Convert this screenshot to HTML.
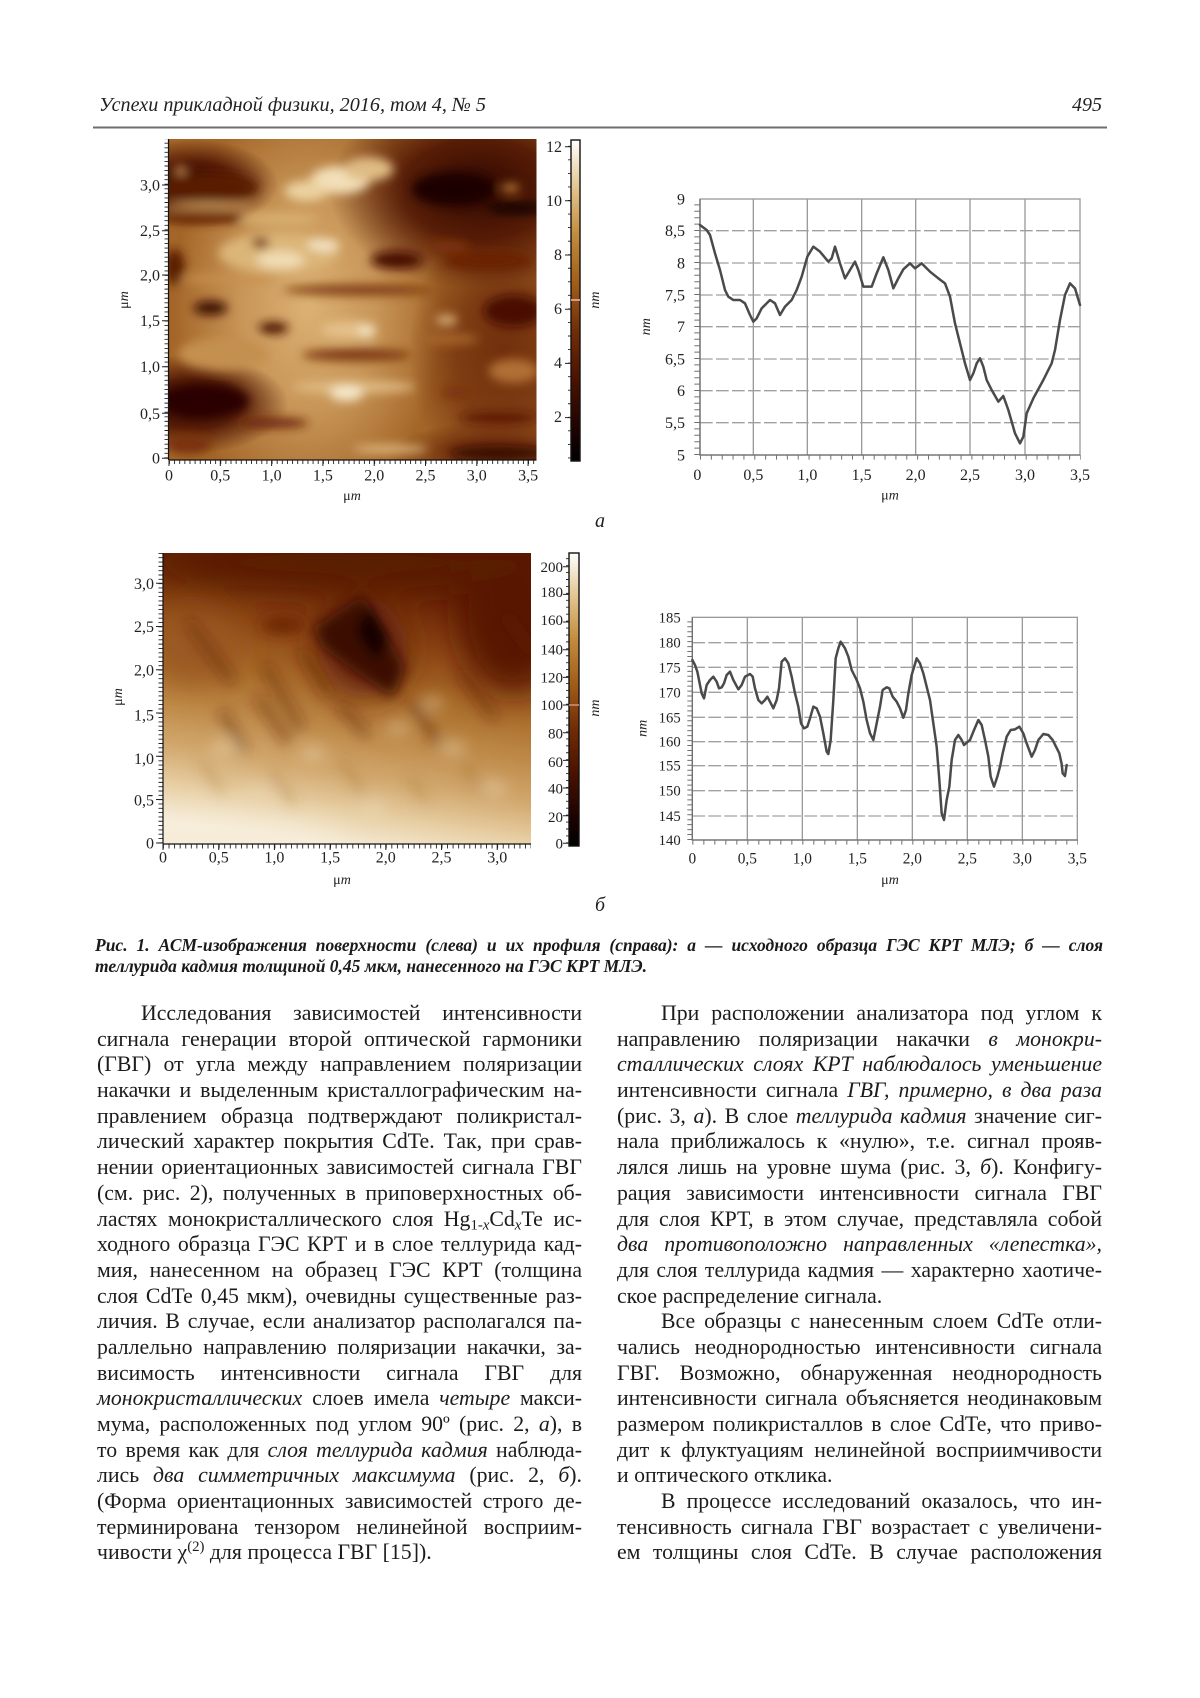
<!DOCTYPE html>
<html>
<head>
<meta charset="utf-8">
<style>
html,body{margin:0;padding:0;background:#fff;}
body{width:1200px;height:1698px;position:relative;overflow:hidden;}
.cap{position:absolute;left:95px;top:935px;width:1008px;font:italic bold 17.5px/21px "Liberation Serif","Noto Serif CJK SC",serif;color:#1a1a1a;}
.cap div{text-align:justify;text-align-last:justify;}
.cap div.e{text-align-last:left;}
.col{position:absolute;top:1001px;width:485px;font:21.8px/25.7px "Liberation Serif","Noto Serif CJK SC",serif;color:#1c1c1c;}
.col div{text-align:justify;text-align-last:justify;height:25.7px;}
.col div.e{text-align-last:left;}
.col div.i{text-indent:44px;}
sub,sup{line-height:0;font-size:0.68em;}
sub{vertical-align:-0.22em;}
sup{vertical-align:0.55em;}
</style>
</head>
<body>
<svg width="1200" height="930" style="position:absolute;left:0;top:0" font-family="Liberation Serif, serif">
<defs>
<filter id="bL" filterUnits="userSpaceOnUse" x="-150" y="-150" width="700" height="650"><feGaussianBlur stdDeviation="16"/></filter>
<filter id="bS" filterUnits="userSpaceOnUse" x="-150" y="-150" width="700" height="650"><feGaussianBlur stdDeviation="5"/></filter>
<filter id="bM" filterUnits="userSpaceOnUse" x="-150" y="-150" width="700" height="650"><feGaussianBlur stdDeviation="7"/></filter>
<clipPath id="c1"><rect x="0" y="0" width="368" height="321"/></clipPath>
<clipPath id="c2"><rect x="0" y="0" width="368" height="291"/></clipPath>
<radialGradient id="rDark">
<stop offset="0" stop-color="#2e0600" stop-opacity="1"/>
<stop offset="0.5" stop-color="#4a1000" stop-opacity="0.85"/>
<stop offset="1" stop-color="#4a1000" stop-opacity="0"/>
</radialGradient>
<radialGradient id="rMed">
<stop offset="0" stop-color="#6e2c0a" stop-opacity="0.95"/>
<stop offset="0.5" stop-color="#6e2c0a" stop-opacity="0.7"/>
<stop offset="1" stop-color="#6e2c0a" stop-opacity="0"/>
</radialGradient>
<radialGradient id="rLight">
<stop offset="0" stop-color="#dcb274" stop-opacity="1"/>
<stop offset="0.5" stop-color="#d4a668" stop-opacity="0.75"/>
<stop offset="1" stop-color="#d4a668" stop-opacity="0"/>
</radialGradient>
<linearGradient id="cb" x1="0" y1="1" x2="0" y2="0">
<stop offset="0" stop-color="#000"/>
<stop offset="0.1" stop-color="#1e0300"/>
<stop offset="0.25" stop-color="#4a1200"/>
<stop offset="0.4" stop-color="#702c06"/>
<stop offset="0.55" stop-color="#a05c18"/>
<stop offset="0.7" stop-color="#c08a3c"/>
<stop offset="0.85" stop-color="#e2c48e"/>
<stop offset="1" stop-color="#fff"/>
</linearGradient>
<linearGradient id="g2" x1="0.6" y1="0" x2="0.4" y2="1">
<stop offset="0" stop-color="#561600"/>
<stop offset="0.12" stop-color="#682404"/>
<stop offset="0.3" stop-color="#8c4614"/>
<stop offset="0.45" stop-color="#a66826"/>
<stop offset="0.6" stop-color="#bd8846"/>
<stop offset="0.75" stop-color="#d2a86e"/>
<stop offset="0.88" stop-color="#e8d0a6"/>
<stop offset="1" stop-color="#f7eedc"/>
</linearGradient>
</defs>

<!-- header -->
<text x="99" y="111" font-size="20" font-style="italic" fill="#222" textLength="387" lengthAdjust="spacingAndGlyphs">Успехи прикладной физики, 2016, том 4, № 5</text>
<text x="1102" y="111" font-size="20" font-style="italic" fill="#222" text-anchor="end">495</text>
<rect x="93" y="126.5" width="1014" height="2" fill="#6e6e6e"/>

<!-- ===== TOP AFM IMAGE ===== -->
<g transform="translate(168.5,139)">
<g clip-path="url(#c1)">
<rect x="0" y="0" width="368" height="321" fill="#a46628"/>
<ellipse cx="140" cy="165" rx="135" ry="210" fill="url(#rLight)"/>
<ellipse cx="335" cy="215" rx="95" ry="140" fill="url(#rMed)"/>
<ellipse cx="310" cy="50" rx="150" ry="100" fill="url(#rDark)"/>
<ellipse cx="25" cy="45" rx="85" ry="45" fill="url(#rDark)"/>
<ellipse cx="25" cy="265" rx="95" ry="50" fill="url(#rDark)"/>
<ellipse cx="320" cy="315" rx="100" ry="32" fill="url(#rMed)"/>
<g filter="url(#bS)">
<ellipse cx="172" cy="41" rx="30" ry="14" fill="#f2dfb8"/>
<ellipse cx="138" cy="52" rx="22" ry="10" fill="#ecd2a0"/>
<ellipse cx="200" cy="30" rx="25" ry="12" fill="#e0bc84"/>
<ellipse cx="285" cy="50" rx="42" ry="17" fill="#1e0300"/>
<ellipse cx="350" cy="69" rx="30" ry="5" fill="#080000"/>
<ellipse cx="342" cy="49" rx="9" ry="4" fill="#c88838"/>
<ellipse cx="12" cy="31" rx="6" ry="4" fill="#d09858"/>
<ellipse cx="40" cy="48" rx="50" ry="14" fill="#5a1c02"/>
<ellipse cx="40" cy="67" rx="45" ry="4" fill="#c89858"/>
<ellipse cx="45" cy="79" rx="55" ry="5" fill="#6a2806"/>
<ellipse cx="110" cy="80" rx="40" ry="6" fill="#d8b070"/>
<ellipse cx="110" cy="114" rx="60" ry="20" fill="#dcb678"/>
<ellipse cx="112" cy="121" rx="24" ry="9" fill="#f0dcb4"/>
<ellipse cx="155" cy="106" rx="16" ry="6" fill="#f4e4c4"/>
<ellipse cx="92" cy="104" rx="9" ry="5" fill="#6a2206"/>
<ellipse cx="228" cy="121" rx="26" ry="9" fill="#4a1000"/>
<ellipse cx="280" cy="108" rx="20" ry="6" fill="#7a3008"/>
<ellipse cx="6" cy="128" rx="10" ry="18" fill="#5a1a02"/>
<ellipse cx="320" cy="122" rx="45" ry="10" fill="#6a2206"/>
<ellipse cx="345" cy="172" rx="30" ry="16" fill="#4a1000"/>
<ellipse cx="190" cy="151" rx="75" ry="5" fill="#7a3410"/>
<ellipse cx="60" cy="140" rx="50" ry="4" fill="#c89050"/>
<ellipse cx="42" cy="169" rx="17" ry="7" fill="#3a0800"/>
<ellipse cx="105" cy="189" rx="15" ry="6" fill="#4e1400"/>
<ellipse cx="180" cy="191" rx="28" ry="9" fill="#e4c08a"/>
<ellipse cx="198" cy="192" rx="9" ry="7" fill="#f2e0bc"/>
<ellipse cx="278" cy="181" rx="11" ry="5" fill="#d8b07a"/>
<ellipse cx="188" cy="216" rx="55" ry="6" fill="#7a3410"/>
<ellipse cx="55" cy="215" rx="45" ry="16" fill="#c49050"/>
<ellipse cx="185" cy="248" rx="62" ry="6" fill="#e0bc84"/>
<ellipse cx="178" cy="254" rx="17" ry="8" fill="#f4e6c8"/>
<ellipse cx="35" cy="262" rx="45" ry="17" fill="#2a0400"/>
<ellipse cx="105" cy="284" rx="35" ry="5" fill="#6a2408"/>
<ellipse cx="20" cy="305" rx="22" ry="10" fill="#7a3010"/>
<ellipse cx="222" cy="310" rx="38" ry="4" fill="#e0bc84"/>
<ellipse cx="330" cy="279" rx="40" ry="5" fill="#5a1800"/>
<ellipse cx="288" cy="254" rx="16" ry="5" fill="#7a3008"/>
<ellipse cx="330" cy="314" rx="50" ry="8" fill="#3a0800"/>
<ellipse cx="345" cy="232" rx="25" ry="12" fill="#b07034"/>
<ellipse cx="280" cy="200" rx="30" ry="5" fill="#a8682a"/>
</g>
</g>
<line x1="0" y1="0" x2="0" y2="321" stroke="#111" stroke-width="1.2"/>
<line x1="0" y1="321" x2="368" y2="321" stroke="#111" stroke-width="1.2"/>
</g>
<!-- ticks top AFM -->
<line x1="166.5" y1="458.3" x2="166.5" y2="139" stroke="#222" stroke-width="4" stroke-dasharray="0.9 3.66"/>
<line x1="169" y1="462" x2="536" y2="462" stroke="#222" stroke-width="4" stroke-dasharray="0.9 4.23"/>
<path d="M162 185h6M162 230.7h6M162 275h6M162 320.7h6M162 366.7h6M162 413.3h6M162 458.3h6M169 460v6M220.3 460v6M271.6 460v6M322.9 460v6M374.2 460v6M425.5 460v6M476.8 460v6M528.1 460v6" stroke="#222" stroke-width="1"/>
<g font-size="16" fill="#222" text-anchor="end">
<text x="160" y="190.5">3,0</text>
<text x="160" y="236">2,5</text>
<text x="160" y="280.5">2,0</text>
<text x="160" y="326">1,5</text>
<text x="160" y="372">1,0</text>
<text x="160" y="418.8">0,5</text>
<text x="160" y="463.5">0</text>
</g>
<g font-size="16" fill="#222" text-anchor="middle">
<text x="169" y="480.5">0</text>
<text x="220.3" y="480.5">0,5</text>
<text x="271.6" y="480.5">1,0</text>
<text x="322.9" y="480.5">1,5</text>
<text x="374.2" y="480.5">2,0</text>
<text x="425.5" y="480.5">2,5</text>
<text x="476.8" y="480.5">3,0</text>
<text x="528.1" y="480.5">3,5</text>
</g>
<text x="352" y="500" font-size="14" text-anchor="middle" fill="#222">μ<tspan font-style="italic">m</tspan></text>
<text transform="translate(128,300) rotate(-90)" font-size="14" text-anchor="middle" fill="#222">μ<tspan font-style="italic">m</tspan></text>
<!-- top colorbar -->
<rect x="571" y="140" width="9" height="321" fill="url(#cb)" stroke="#111" stroke-width="1.4"/>
<line x1="571" y1="300" x2="580" y2="300" stroke="#f0b8a8" stroke-width="1.5"/>
<line x1="569.5" y1="458.4" x2="569.5" y2="140" stroke="#222" stroke-width="3" stroke-dasharray="0.9 12.65"/>
<path d="M565 146.7h6M565 200.8h6M565 255h6M565 309.2h6M565 363.4h6M565 417.6h6" stroke="#222" stroke-width="1"/>
<g font-size="16" fill="#222" text-anchor="end">
<text x="562" y="152">12</text>
<text x="562" y="206">10</text>
<text x="562" y="260">8</text>
<text x="562" y="314">6</text>
<text x="562" y="368">4</text>
<text x="562" y="422">2</text>
</g>
<text transform="translate(599,300) rotate(-90)" font-size="14" font-style="italic" text-anchor="middle" fill="#222">nm</text>
<text x="600" y="527" font-size="20" font-style="italic" text-anchor="middle" fill="#222">а</text>

<!-- ===== TOP PROFILE ===== -->
<svg x="600" y="180" width="520" height="340" viewBox="0 0 1560 1020">
<path d="M300 152H1440M300 249H1440M300 345H1440M300 440H1440M300 537H1440M300 632H1440M300 728H1440" stroke="#a0a0a0" stroke-width="4" stroke-dasharray="38 10" fill="none"/>
<path d="M460 57V825M622 57V825M785 57V825M947 57V825M1110 57V825M1275 57V825" stroke="#9a9a9a" stroke-width="4" fill="none"/>
<rect x="300" y="57" width="1140" height="768" stroke="#9a9a9a" stroke-width="4" fill="none"/>
<path d="M300 57V825H1440" stroke="#707070" stroke-width="4" fill="none"/>
<line x1="291" y1="825" x2="291" y2="57" stroke="#707070" stroke-width="16" stroke-dasharray="3 16.2"/>
<line x1="300" y1="832" x2="1442" y2="832" stroke="#707070" stroke-width="14" stroke-dasharray="3 29.57"/>
<g font-size="48" fill="#222" text-anchor="end">
<text x="255" y="73">9</text>
<text x="255" y="168">8,5</text>
<text x="255" y="265">8</text>
<text x="255" y="361">7,5</text>
<text x="255" y="456">7</text>
<text x="255" y="553">6,5</text>
<text x="255" y="648">6</text>
<text x="255" y="744">5,5</text>
<text x="255" y="841">5</text>
</g>
<g font-size="48" fill="#222" text-anchor="middle">
<text x="292" y="900">0</text>
<text x="460" y="900">0,5</text>
<text x="622" y="900">1,0</text>
<text x="785" y="900">1,5</text>
<text x="947" y="900">2,0</text>
<text x="1110" y="900">2,5</text>
<text x="1275" y="900">3,0</text>
<text x="1440" y="900">3,5</text>
</g>
<text x="870" y="958" font-size="42" text-anchor="middle" fill="#222">μ<tspan font-style="italic">m</tspan></text>
<text transform="translate(150,440) rotate(-90)" font-size="42" font-style="italic" text-anchor="middle" fill="#222">nm</text>
<polyline fill="none" stroke="#4a4a4a" stroke-width="7.5" stroke-linejoin="round" stroke-linecap="round" points="300,135 320,150 330,165 345,220 360,270 375,330 385,350 400,360 420,360 435,370 450,405 460,425 470,415 485,385 510,360 525,370 540,405 555,380 575,360 590,330 605,290 622,230 640,200 660,215 685,245 695,235 705,200 720,250 735,295 750,270 765,245 775,270 790,320 815,320 830,280 850,232 865,270 880,325 895,295 910,268 930,250 945,265 965,250 990,275 1015,295 1035,310 1050,350 1065,430 1080,490 1095,550 1110,600 1120,580 1130,550 1140,535 1150,560 1160,600 1175,630 1195,665 1210,648 1225,690 1245,760 1260,790 1270,770 1280,700 1300,655 1330,600 1355,550 1365,510 1380,420 1395,345 1410,310 1425,325 1440,375"/>
</svg>

<!-- ===== BOTTOM AFM IMAGE ===== -->
<g transform="translate(163,553)">
<g clip-path="url(#c2)">
<rect x="0" y="0" width="368" height="291" fill="url(#g2)"/>
<g filter="url(#bL)">
<ellipse cx="350" cy="60" rx="55" ry="80" fill="#581802"/>
<ellipse cx="30" cy="95" rx="45" ry="35" fill="#9a5822"/>
<ellipse cx="60" cy="300" rx="120" ry="30" fill="#f6ecd8"/>
<ellipse cx="200" cy="95" rx="45" ry="50" fill="#6a2808"/>
<ellipse cx="180" cy="10" rx="200" ry="25" fill="#5a1a02"/>
</g>
<g filter="url(#bM)">
<polygon points="200,42 150,75 160,95 230,145 242,115" fill="#3a0a00"/>
<ellipse cx="120" cy="72" rx="22" ry="8" fill="#6a2406"/>
<g stroke="#5e2206" stroke-width="8" stroke-opacity="0.6" stroke-linecap="round">
<line x1="27" y1="70" x2="68" y2="127"/>
<line x1="96" y1="147" x2="124" y2="187"/>
<line x1="103" y1="114" x2="137" y2="174"/>
<line x1="178" y1="153" x2="202" y2="180"/>
<line x1="299" y1="120" x2="330" y2="163"/>
<line x1="344" y1="64" x2="368" y2="97"/>
<line x1="140" y1="100" x2="165" y2="140"/>
<line x1="60" y1="160" x2="80" y2="195"/>
<line x1="250" y1="150" x2="275" y2="190"/>
</g>
<g stroke="#8a5020" stroke-width="6" stroke-opacity="0.35" stroke-linecap="round">
<line x1="248" y1="227" x2="262" y2="247"/>
<line x1="180" y1="210" x2="200" y2="240"/>
<line x1="110" y1="220" x2="130" y2="250"/>
<line x1="300" y1="210" x2="320" y2="240"/>
<line x1="40" y1="210" x2="58" y2="238"/>
</g>
<g fill="#eeddbc" fill-opacity="0.35">
<ellipse cx="60" cy="195" rx="14" ry="9"/>
<ellipse cx="150" cy="200" rx="14" ry="9"/>
<ellipse cx="235" cy="175" rx="12" ry="8"/>
<ellipse cx="290" cy="195" rx="14" ry="9"/>
<ellipse cx="330" cy="235" rx="14" ry="9"/>
<ellipse cx="95" cy="240" rx="14" ry="9"/>
<ellipse cx="210" cy="255" rx="14" ry="9"/>
<ellipse cx="270" cy="150" rx="12" ry="8"/>
</g>
</g>
<g filter="url(#bS)">
<polygon points="205,55 195,80 214,106 223,85" fill="#120000"/>
</g>
</g>
<line x1="0" y1="0" x2="0" y2="291" stroke="#111" stroke-width="1.2"/>
<line x1="0" y1="291" x2="368" y2="291" stroke="#111" stroke-width="1.2"/>
</g>
<line x1="160.5" y1="843.3" x2="160.5" y2="553" stroke="#222" stroke-width="4" stroke-dasharray="0.9 3.42"/>
<line x1="163" y1="846.5" x2="531" y2="846.5" stroke="#222" stroke-width="4" stroke-dasharray="0.9 4.67"/>
<path d="M156 583.3h6M156 626.5h6M156 669.7h6M156 713h6M156 756.2h6M156 799.5h6M156 843h6M163 844v6M218.7 844v6M274.4 844v6M330.1 844v6M385.8 844v6M441.5 844v6M497.2 844v6" stroke="#222" stroke-width="1"/>
<g font-size="16" fill="#222" text-anchor="end">
<text x="154" y="589">3,0</text>
<text x="154" y="632">2,5</text>
<text x="154" y="675.5">2,0</text>
<text x="154" y="720.5">1,5</text>
<text x="154" y="764">1,0</text>
<text x="154" y="805.5">0,5</text>
<text x="154" y="848.5">0</text>
</g>
<g font-size="16" fill="#222" text-anchor="middle">
<text x="163" y="862.5">0</text>
<text x="218.7" y="862.5">0,5</text>
<text x="274.4" y="862.5">1,0</text>
<text x="330.1" y="862.5">1,5</text>
<text x="385.8" y="862.5">2,0</text>
<text x="441.5" y="862.5">2,5</text>
<text x="497.2" y="862.5">3,0</text>
</g>
<text x="342" y="884" font-size="14" text-anchor="middle" fill="#222">μ<tspan font-style="italic">m</tspan></text>
<text transform="translate(122,697) rotate(-90)" font-size="14" text-anchor="middle" fill="#222">μ<tspan font-style="italic">m</tspan></text>
<!-- bottom colorbar -->
<rect x="569" y="553" width="10" height="293" fill="url(#cb)" stroke="#111" stroke-width="1.4"/>
<line x1="569" y1="705" x2="579" y2="705" stroke="#d89080" stroke-width="1.5"/>
<line x1="567.5" y1="843.3" x2="567.5" y2="553" stroke="#222" stroke-width="3" stroke-dasharray="0.9 6.03"/>
<path d="M563 566.7h6M563 594.4h6M563 622h6M563 649.7h6M563 677.4h6M563 705h6M563 732.7h6M563 760.4h6M563 788h6M563 815.7h6M563 843.3h6" stroke="#222" stroke-width="1"/>
<g font-size="15" fill="#222" text-anchor="end">
<text x="563" y="572">200</text>
<text x="563" y="597">180</text>
<text x="563" y="625">160</text>
<text x="563" y="654.5">140</text>
<text x="563" y="682.5">120</text>
<text x="563" y="710">100</text>
<text x="563" y="738.5">80</text>
<text x="563" y="767">60</text>
<text x="563" y="793.5">40</text>
<text x="563" y="822">20</text>
<text x="563" y="848.5">0</text>
</g>
<text transform="translate(599,708) rotate(-90)" font-size="14" font-style="italic" text-anchor="middle" fill="#222">nm</text>
<text x="600" y="911" font-size="20" font-style="italic" text-anchor="middle" fill="#222">б</text>

<!-- ===== BOTTOM PROFILE ===== -->
<svg x="600" y="600" width="520" height="320" viewBox="0 0 1560 960">
<path d="M277 128H1432M277 202H1432M277 277H1432M277 352H1432M277 425H1432M277 497H1432M277 572H1432M277 648H1432" stroke="#a0a0a0" stroke-width="4" stroke-dasharray="38 10" fill="none"/>
<path d="M442 52V720M607 52V720M772 52V720M937 52V720M1102 52V720M1267 52V720" stroke="#9a9a9a" stroke-width="4" fill="none"/>
<rect x="277" y="52" width="1155" height="668" stroke="#9a9a9a" stroke-width="4" fill="none"/>
<path d="M277 52V720H1432" stroke="#707070" stroke-width="4" fill="none"/>
<line x1="269" y1="720" x2="269" y2="52" stroke="#707070" stroke-width="14" stroke-dasharray="3 11.84"/>
<line x1="277" y1="727" x2="1434" y2="727" stroke="#707070" stroke-width="14" stroke-dasharray="3 30"/>
<g font-size="44" fill="#222" text-anchor="end">
<text x="242" y="67">185</text>
<text x="242" y="143">180</text>
<text x="242" y="217">175</text>
<text x="242" y="292">170</text>
<text x="242" y="367">165</text>
<text x="242" y="440">160</text>
<text x="242" y="512">155</text>
<text x="242" y="587">150</text>
<text x="242" y="663">145</text>
<text x="242" y="735">140</text>
</g>
<g font-size="46" fill="#222" text-anchor="middle">
<text x="277" y="790">0</text>
<text x="442" y="790">0,5</text>
<text x="607" y="790">1,0</text>
<text x="772" y="790">1,5</text>
<text x="937" y="790">2,0</text>
<text x="1102" y="790">2,5</text>
<text x="1267" y="790">3,0</text>
<text x="1432" y="790">3,5</text>
</g>
<text x="870" y="852" font-size="42" text-anchor="middle" fill="#222">μ<tspan font-style="italic">m</tspan></text>
<text transform="translate(140,385) rotate(-90)" font-size="42" font-style="italic" text-anchor="middle" fill="#222">nm</text>
<polyline fill="none" stroke="#4a4a4a" stroke-width="7.5" stroke-linejoin="round" stroke-linecap="round" points="277,180 285,195 292,215 300,255 305,280 312,295 320,255 330,240 340,230 350,245 357,265 365,262 372,250 380,225 390,215 400,240 415,268 425,255 435,230 450,222 458,230 465,265 475,300 485,310 495,300 502,290 510,305 520,325 530,300 537,265 545,185 555,175 565,190 575,230 585,280 595,320 603,370 612,385 622,380 630,355 640,320 650,325 660,350 670,400 680,455 685,462 692,420 700,300 707,175 715,145 722,125 735,145 745,170 755,210 770,240 780,265 790,305 800,360 810,400 820,420 830,370 840,320 848,270 860,262 868,265 878,290 890,305 900,325 910,353 918,330 925,280 935,225 950,175 960,190 970,220 980,260 990,300 1000,370 1010,440 1018,540 1025,640 1032,660 1040,600 1048,560 1055,480 1065,420 1075,405 1085,420 1092,435 1100,428 1110,420 1120,395 1135,360 1145,375 1155,420 1165,470 1172,530 1182,560 1192,530 1200,500 1208,460 1220,410 1232,390 1245,388 1258,380 1270,400 1280,430 1295,470 1305,450 1315,420 1330,402 1345,405 1358,420 1368,440 1378,460 1385,492 1388,520 1395,528 1400,495"/>
</svg>
</svg>

<div class="cap">
<div>Рис. 1. АСМ-изображения поверхности (слева) и их профиля (справа): а — исходного образца ГЭС КРТ МЛЭ; б — слоя</div>
<div class="e">теллурида кадмия толщиной 0,45 мкм, нанесенного на ГЭС КРТ МЛЭ.</div>
</div>

<div class="col" style="left:97px">
<div class="i">Исследования зависимостей интенсивности</div>
<div>сигнала генерации второй оптической гармоники</div>
<div>(ГВГ) от угла между направлением поляризации</div>
<div>накачки и выделенным кристаллографическим на-</div>
<div>правлением образца подтверждают поликристал-</div>
<div>лический характер покрытия CdTe. Так, при срав-</div>
<div>нении ориентационных зависимостей сигнала ГВГ</div>
<div>(см. рис. 2), полученных в приповерхностных об-</div>
<div>ластях монокристаллического слоя Hg<sub>1-<i>x</i></sub>Cd<sub><i>x</i></sub>Te ис-</div>
<div>ходного образца ГЭС КРТ и в слое теллурида кад-</div>
<div>мия, нанесенном на образец ГЭС КРТ (толщина</div>
<div>слоя CdTe 0,45 мкм), очевидны существенные раз-</div>
<div>личия. В случае, если анализатор располагался па-</div>
<div>раллельно направлению поляризации накачки, за-</div>
<div>висимость интенсивности сигнала ГВГ для</div>
<div><i>монокристаллических</i> слоев имела <i>четыре</i> макси-</div>
<div>мума, расположенных под углом 90º (рис. 2, <i>а</i>), в</div>
<div>то время как для <i>слоя теллурида кадмия</i> наблюда-</div>
<div>лись <i>два симметричных максимума</i> (рис. 2, <i>б</i>).</div>
<div>(Форма ориентационных зависимостей строго де-</div>
<div>терминирована тензором нелинейной восприим-</div>
<div class="e">чивости χ<sup>(2)</sup> для процесса ГВГ [15]).</div>
</div>

<div class="col" style="left:617px">
<div class="i">При расположении анализатора под углом к</div>
<div>направлению поляризации накачки <i>в монокри-</i></div>
<div><i>сталлических слоях КРТ наблюдалось уменьшение</i></div>
<div>интенсивности сигнала <i>ГВГ, примерно, в два раза</i></div>
<div>(рис. 3, <i>а</i>). В слое <i>теллурида кадмия</i> значение сиг-</div>
<div>нала приближалось к «нулю», т.е. сигнал прояв-</div>
<div>лялся лишь на уровне шума (рис. 3, <i>б</i>). Конфигу-</div>
<div>рация зависимости интенсивности сигнала ГВГ</div>
<div>для слоя КРТ, в этом случае, представляла собой</div>
<div><i>два противоположно направленных «лепестка»,</i></div>
<div>для слоя теллурида кадмия — характерно хаотиче-</div>
<div class="e">ское распределение сигнала.</div>
<div class="i">Все образцы с нанесенным слоем CdTe отли-</div>
<div>чались неоднородностью интенсивности сигнала</div>
<div>ГВГ. Возможно, обнаруженная неоднородность</div>
<div>интенсивности сигнала объясняется неодинаковым</div>
<div>размером поликристаллов в слое CdTe, что приво-</div>
<div>дит к флуктуациям нелинейной восприимчивости</div>
<div class="e">и оптического отклика.</div>
<div class="i">В процессе исследований оказалось, что ин-</div>
<div>тенсивность сигнала ГВГ возрастает с увеличени-</div>
<div>ем толщины слоя CdTe. В случае расположения</div>
</div>
</body>
</html>
